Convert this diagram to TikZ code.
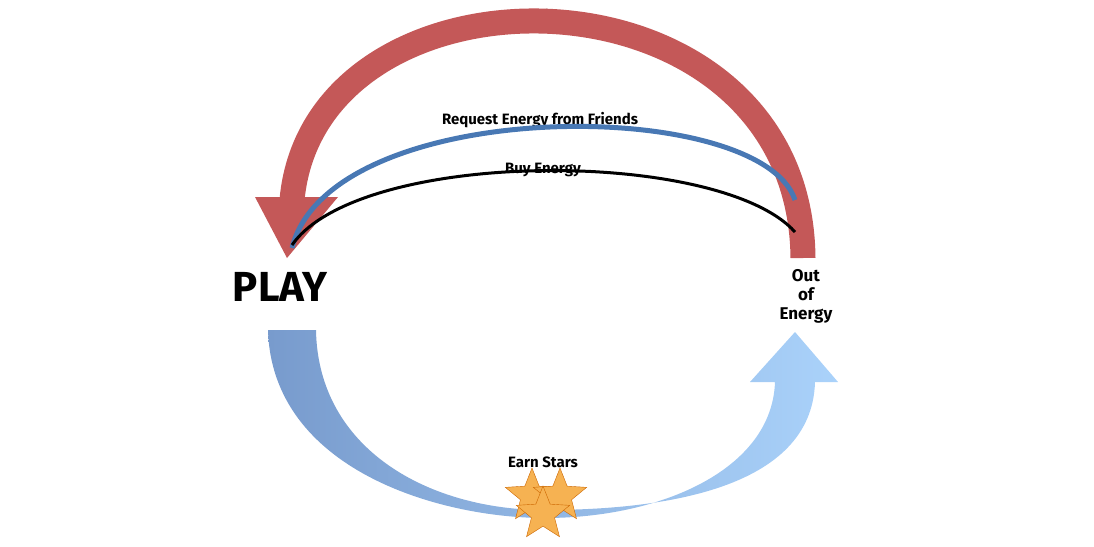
\documentclass[tikz,border=0pt]{standalone}
\usepackage{fontspec}
\setmainfont{Fira Sans}
\usetikzlibrary{positioning}
\usetikzlibrary{shapes.geometric}
\definecolor{waitred}{RGB}{196,88,88}
\definecolor{askblue}{RGB}{72,120,180}
\definecolor{playblueA}{RGB}{120,155,205}
\definecolor{playblueB}{RGB}{70,128,195}
\definecolor{playblueC}{RGB}{170,210,250}
\definecolor{stargold}{RGB}{246,178,82}
\begin{document}
\begin{tikzpicture}[x=0.5pt,y=-0.5pt,
	lbl/.style={font=\bfseries\fontsize{7.5}{8}\selectfont},
	star5/.style={star, star points=5, star point ratio=2.3, fill=stargold, draw=orange!80!black, line width=0.2pt, minimum size=28pt, inner sep=0pt}]
	\useasboundingbox (0,0) rectangle (1094,547);
	
	\node[font=\bfseries\fontsize{21}{22}\selectfont] (play) at (280,287) {PLAY};
	\node[font=\bfseries\fontsize{8.5}{9.5}\selectfont, align=center] (out) at (806,296) {Out\\of\\Energy};
	\node[lbl] (wait) at (545,16) {Wait\dots};
	\node[lbl] (ask) at (540,120) {Request Energy from Friends};
	\node[lbl] (buy) at (543,170) {Buy Energy};
	\node[lbl] (earn) at (543,462) {Earn Stars};
	
	\coordinate (outtop) at (803,258);
	\coordinate (playtop) at (292,200);
	\coordinate (playtip) at (287,258);
	
	% cycle back: wait
	\draw[waitred, line width=12.5pt] (outtop) .. controls (800,-45) and (315,-50) .. (playtop);
	\fill[waitred] (255,197) -- (playtip) -- (338,197) -- cycle;
	% cycle back: friends and buy
	\draw[askblue, line width=2.5pt] (795,200) .. controls (760,95) and (330,95) .. (292,248);
	\draw[black, line width=1.5pt] (795,232) .. controls (720,148) and (360,148) .. (292,245);
	
	% play loop
	\shade[left color=playblueA, middle color=playblueB, right color=playblueC]
		(268,330) .. controls (272,470) and (440,518) .. (545,518)
		.. controls (660,518) and (772,470) .. (775,382)
		-- (750,382) -- (795,332) -- (838,382) -- (815,382)
		.. controls (812,490) and (660,510) .. (545,510)
		.. controls (430,510) and (318,450) .. (316,330) -- cycle;
	
	\node[star5] (star1) at (532,496) {};
	\node[star5] (star2) at (560,496) {};
	\node[star5] (star3) at (543,514) {};
\end{tikzpicture}
\end{document}
